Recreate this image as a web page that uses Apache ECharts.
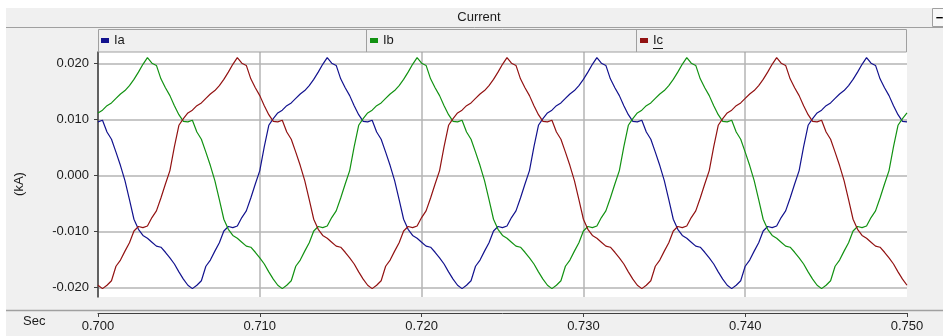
<!DOCTYPE html>
<html>
<head>
<meta charset="utf-8">
<script src="https://cdn.jsdelivr.net/npm/echarts@6/dist/echarts.min.js"></script>
<style>
  html, body { margin: 0; padding: 0; background: #ffffff; }
  #chart { width: 943px; height: 336px; }
</style>
</head>
<body>
<div id="chart"></div>
<script>
// Sampling grid of the recorded currents (seconds)
const sampleStart = 0.700;
const sampleStep = 1 / 3600;

// Axis ticks
const xTicks = [0.70, 0.71, 0.72, 0.73, 0.74, 0.75];
const yTicks = [-0.02, -0.01, 0.00, 0.01, 0.02];

// Phase currents (kA), one value per sample
const seriesNames = ['Ia', 'Ib', 'Ic'];

const Ia = [
  0.0096,
  0.0099, 0.0078, 0.0065, 0.0042, 0.0018, -0.0009, -0.0043, -0.0078, -0.0096, -0.0107,
  -0.0112, -0.0119, -0.0126, -0.0128, -0.0137, -0.0147, -0.0158, -0.0172, -0.0185, -0.0196,
  -0.0202, -0.0196, -0.0188, -0.0162, -0.0151, -0.0135, -0.0120, -0.0099, -0.0091, -0.0093,
  -0.0090, -0.0075, -0.0063, -0.0040, -0.0015, 0.0009, 0.0052, 0.0090, 0.0102, 0.0112,
  0.0117, 0.0125, 0.0130, 0.0138, 0.0146, 0.0152, 0.0161, 0.0172, 0.0185, 0.0199,
  0.0211, 0.0201, 0.0197, 0.0173, 0.0157, 0.0143, 0.0125, 0.0109, 0.0097, 0.0096,
  0.0099, 0.0078, 0.0065, 0.0042, 0.0018, -0.0009, -0.0043, -0.0078, -0.0096, -0.0107,
  -0.0112, -0.0119, -0.0126, -0.0128, -0.0137, -0.0147, -0.0158, -0.0172, -0.0185, -0.0196,
  -0.0202, -0.0196, -0.0188, -0.0162, -0.0151, -0.0135, -0.0120, -0.0099, -0.0091, -0.0093,
  -0.0090, -0.0075, -0.0063, -0.0040, -0.0015, 0.0009, 0.0052, 0.0090, 0.0102, 0.0112,
  0.0117, 0.0125, 0.0130, 0.0138, 0.0146, 0.0152, 0.0161, 0.0172, 0.0185, 0.0199,
  0.0211, 0.0201, 0.0197, 0.0173, 0.0157, 0.0143, 0.0125, 0.0109, 0.0097, 0.0096,
  0.0099, 0.0078, 0.0065, 0.0042, 0.0018, -0.0009, -0.0043, -0.0078, -0.0096, -0.0107,
  -0.0112, -0.0119, -0.0126, -0.0128, -0.0137, -0.0147, -0.0158, -0.0172, -0.0185, -0.0196,
  -0.0202, -0.0196, -0.0188, -0.0162, -0.0151, -0.0135, -0.0120, -0.0099, -0.0091, -0.0093,
  -0.0090, -0.0075, -0.0063, -0.0040, -0.0015, 0.0009, 0.0052, 0.0090, 0.0102, 0.0112,
  0.0117, 0.0125, 0.0130, 0.0138, 0.0146, 0.0152, 0.0161, 0.0172, 0.0185, 0.0199,
  0.0211, 0.0201, 0.0197, 0.0173, 0.0157, 0.0143, 0.0125, 0.0109, 0.0097, 0.0096
];

const Ib = [
  0.0112,
  0.0117, 0.0125, 0.0130, 0.0138, 0.0146, 0.0152, 0.0161, 0.0172, 0.0185, 0.0199,
  0.0211, 0.0201, 0.0197, 0.0173, 0.0157, 0.0143, 0.0125, 0.0109, 0.0097, 0.0096,
  0.0099, 0.0078, 0.0065, 0.0042, 0.0018, -0.0009, -0.0043, -0.0078, -0.0096, -0.0107,
  -0.0112, -0.0119, -0.0126, -0.0128, -0.0137, -0.0147, -0.0158, -0.0172, -0.0185, -0.0196,
  -0.0202, -0.0196, -0.0188, -0.0162, -0.0151, -0.0135, -0.0120, -0.0099, -0.0091, -0.0093,
  -0.0090, -0.0075, -0.0063, -0.0040, -0.0015, 0.0009, 0.0052, 0.0090, 0.0102, 0.0112,
  0.0117, 0.0125, 0.0130, 0.0138, 0.0146, 0.0152, 0.0161, 0.0172, 0.0185, 0.0199,
  0.0211, 0.0201, 0.0197, 0.0173, 0.0157, 0.0143, 0.0125, 0.0109, 0.0097, 0.0096,
  0.0099, 0.0078, 0.0065, 0.0042, 0.0018, -0.0009, -0.0043, -0.0078, -0.0096, -0.0107,
  -0.0112, -0.0119, -0.0126, -0.0128, -0.0137, -0.0147, -0.0158, -0.0172, -0.0185, -0.0196,
  -0.0202, -0.0196, -0.0188, -0.0162, -0.0151, -0.0135, -0.0120, -0.0099, -0.0091, -0.0093,
  -0.0090, -0.0075, -0.0063, -0.0040, -0.0015, 0.0009, 0.0052, 0.0090, 0.0102, 0.0112,
  0.0117, 0.0125, 0.0130, 0.0138, 0.0146, 0.0152, 0.0161, 0.0172, 0.0185, 0.0199,
  0.0211, 0.0201, 0.0197, 0.0173, 0.0157, 0.0143, 0.0125, 0.0109, 0.0097, 0.0096,
  0.0099, 0.0078, 0.0065, 0.0042, 0.0018, -0.0009, -0.0043, -0.0078, -0.0096, -0.0107,
  -0.0112, -0.0119, -0.0126, -0.0128, -0.0137, -0.0147, -0.0158, -0.0172, -0.0185, -0.0196,
  -0.0202, -0.0196, -0.0188, -0.0162, -0.0151, -0.0135, -0.0120, -0.0099, -0.0091, -0.0093,
  -0.0090, -0.0075, -0.0063, -0.0040, -0.0015, 0.0009, 0.0052, 0.0090, 0.0102, 0.0112
];

const Ic = [
  -0.0196,
  -0.0202, -0.0196, -0.0188, -0.0162, -0.0151, -0.0135, -0.0120, -0.0099, -0.0091, -0.0093,
  -0.0090, -0.0075, -0.0063, -0.0040, -0.0015, 0.0009, 0.0052, 0.0090, 0.0102, 0.0112,
  0.0117, 0.0125, 0.0130, 0.0138, 0.0146, 0.0152, 0.0161, 0.0172, 0.0185, 0.0199,
  0.0211, 0.0201, 0.0197, 0.0173, 0.0157, 0.0143, 0.0125, 0.0109, 0.0097, 0.0096,
  0.0099, 0.0078, 0.0065, 0.0042, 0.0018, -0.0009, -0.0043, -0.0078, -0.0096, -0.0107,
  -0.0112, -0.0119, -0.0126, -0.0128, -0.0137, -0.0147, -0.0158, -0.0172, -0.0185, -0.0196,
  -0.0202, -0.0196, -0.0188, -0.0162, -0.0151, -0.0135, -0.0120, -0.0099, -0.0091, -0.0093,
  -0.0090, -0.0075, -0.0063, -0.0040, -0.0015, 0.0009, 0.0052, 0.0090, 0.0102, 0.0112,
  0.0117, 0.0125, 0.0130, 0.0138, 0.0146, 0.0152, 0.0161, 0.0172, 0.0185, 0.0199,
  0.0211, 0.0201, 0.0197, 0.0173, 0.0157, 0.0143, 0.0125, 0.0109, 0.0097, 0.0096,
  0.0099, 0.0078, 0.0065, 0.0042, 0.0018, -0.0009, -0.0043, -0.0078, -0.0096, -0.0107,
  -0.0112, -0.0119, -0.0126, -0.0128, -0.0137, -0.0147, -0.0158, -0.0172, -0.0185, -0.0196,
  -0.0202, -0.0196, -0.0188, -0.0162, -0.0151, -0.0135, -0.0120, -0.0099, -0.0091, -0.0093,
  -0.0090, -0.0075, -0.0063, -0.0040, -0.0015, 0.0009, 0.0052, 0.0090, 0.0102, 0.0112,
  0.0117, 0.0125, 0.0130, 0.0138, 0.0146, 0.0152, 0.0161, 0.0172, 0.0185, 0.0199,
  0.0211, 0.0201, 0.0197, 0.0173, 0.0157, 0.0143, 0.0125, 0.0109, 0.0097, 0.0096,
  0.0099, 0.0078, 0.0065, 0.0042, 0.0018, -0.0009, -0.0043, -0.0078, -0.0096, -0.0107,
  -0.0112, -0.0119, -0.0126, -0.0128, -0.0137, -0.0147, -0.0158, -0.0172, -0.0185, -0.0196
];

const FONT = "'Liberation Sans', Arial, sans-serif";
const TEXT = '#1a1a1a';
const FRAME = '#a0a0a0';
const AXIS = '#404040';
const GRIDLINE = '#b4b4b4';
const COLORS = { Ia: '#12128e', Ib: '#129212', Ic: '#921212' };

const toPoints = values => values.map((v, i) => [sampleStart + i * sampleStep, v]);
const seriesData = { Ia: Ia, Ib: Ib, Ic: Ic };

const chart = echarts.init(document.getElementById('chart'), null, { renderer: 'canvas' });

const legendLeft = { Ia: 101, Ib: 370, Ic: 640 };

const option = {
  backgroundColor: '#f0f0f0',
  animation: false,
  textStyle: { fontFamily: FONT },
  grid: {
    left: 98, right: 36, top: 52, bottom: 39,
    show: true, backgroundColor: '#ffffff', borderWidth: 0,
    containLabel: false, outerBoundsMode: 'none'
  },
  legend: seriesNames.map(name => ({
    data: [name],
    left: legendLeft[name], top: 34,
    padding: 0, itemGap: 0,
    itemWidth: 8, itemHeight: 5, icon: 'rect',
    textStyle: { color: TEXT, fontFamily: FONT, fontSize: 13, padding: [0, 0, 0, 0] }
  })),
  xAxis: {
    type: 'value', min: 0.70, max: 0.75, offset: 16,
    axisLine: { show: true, onZero: false, lineStyle: { color: AXIS, width: 1 } },
    axisTick: { show: true, length: 4, customValues: xTicks, lineStyle: { color: AXIS, width: 1 } },
    axisLabel: {
      customValues: xTicks, margin: 7, color: TEXT, fontFamily: FONT, fontSize: 13,
      formatter: v => v.toFixed(3)
    },
    splitLine: { show: true, showMaxLine: false, lineStyle: { color: GRIDLINE, width: 1.5 } }
  },
  yAxis: {
    type: 'value', min: -0.0217, max: 0.0221,
    axisLine: { show: true, onZero: false, lineStyle: { color: AXIS, width: 1.5 } },
    axisTick: { show: true, length: 4, customValues: yTicks, lineStyle: { color: AXIS, width: 1 } },
    axisLabel: {
      customValues: yTicks, margin: 9, color: TEXT, fontFamily: FONT, fontSize: 13,
      formatter: v => (Math.abs(v) < 1e-9 ? 0 : v).toFixed(3)
    },
    splitLine: { show: true, lineStyle: { color: GRIDLINE, width: 1.5 } }
  },
  series: seriesNames.map(name => ({
    name: name,
    type: 'line',
    data: toPoints(seriesData[name]),
    showSymbol: false,
    symbol: 'none',
    clip: true,
    color: COLORS[name],
    itemStyle: { color: COLORS[name] },
    lineStyle: { color: COLORS[name], width: 1.2 },
    emphasis: { disabled: true }
  })),
  graphic: [
    // outer white margins
    { type: 'rect', shape: { x: 0, y: 0, width: 943, height: 8 }, style: { fill: '#ffffff' }, silent: true },
    { type: 'rect', shape: { x: 0, y: 0, width: 6, height: 336 }, style: { fill: '#ffffff' }, silent: true },
    // title bar
    { type: 'line', shape: { x1: 6, y1: 27.5, x2: 943, y2: 27.5 }, style: { stroke: FRAME, lineWidth: 1 }, silent: true },
    { type: 'text', x: 479, y: 17.5, style: { text: 'Current', fill: TEXT, font: '13px ' + FONT, align: 'center', verticalAlign: 'middle', textAlign: 'center', textVerticalAlign: 'middle' }, silent: true },
    // collapse button
    { type: 'rect', shape: { x: 932.5, y: 8.5, width: 12, height: 18 }, style: { fill: '#f8f8f8', stroke: FRAME, lineWidth: 1 }, silent: true },
    { type: 'text', x: 939.5, y: 18, style: { text: '\u2212', fill: '#000000', font: 'bold 13px ' + FONT, align: 'center', verticalAlign: 'middle', textAlign: 'center', textVerticalAlign: 'middle' }, silent: true },
    // legend strip cells
    { type: 'rect', shape: { x: 98.5, y: 29.5, width: 808, height: 22.5 }, style: { fill: 'none', stroke: FRAME, lineWidth: 1 }, silent: true, z: 5 },
    { type: 'line', shape: { x1: 366.5, y1: 29.5, x2: 366.5, y2: 52 }, style: { stroke: FRAME, lineWidth: 1 }, silent: true, z: 5 },
    { type: 'line', shape: { x1: 636.5, y1: 29.5, x2: 636.5, y2: 52 }, style: { stroke: FRAME, lineWidth: 1 }, silent: true, z: 5 },
    { type: 'line', shape: { x1: 653, y1: 48.5, x2: 663, y2: 48.5 }, style: { stroke: TEXT, lineWidth: 1 }, silent: true, z: 5 },
    // separator above the time axis
    { type: 'line', shape: { x1: 6, y1: 310.5, x2: 943, y2: 310.5 }, style: { stroke: FRAME, lineWidth: 1.5 }, silent: true },
    // axis captions
    { type: 'text', x: 23, y: 321, style: { text: 'Sec', fill: TEXT, font: '13px ' + FONT, align: 'left', verticalAlign: 'middle', textAlign: 'left', textVerticalAlign: 'middle' }, silent: true },
    { type: 'text', x: 19, y: 184, rotation: Math.PI / 2, style: { text: '(kA)', fill: TEXT, font: '13px ' + FONT, align: 'center', verticalAlign: 'middle', textAlign: 'center', textVerticalAlign: 'middle' }, silent: true }
  ]
};

chart.setOption(option);
</script>
</body>
</html>
